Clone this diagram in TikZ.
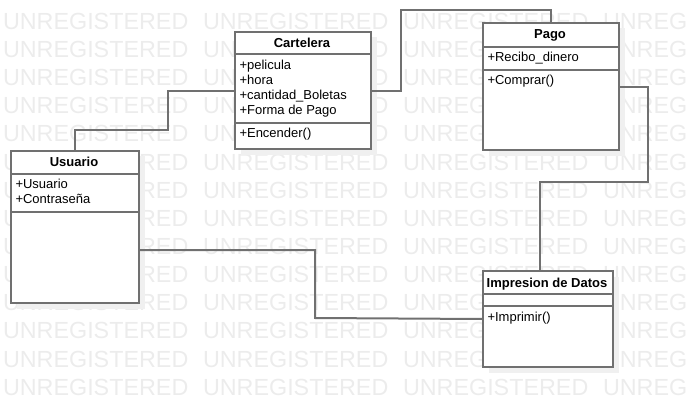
\documentclass[tikz,border=0pt]{standalone}
\usepackage{fontspec}
\setmainfont{Liberation Sans}

\definecolor{umlline}{RGB}{112,112,112}
\definecolor{umlshadow}{RGB}{240,240,240}
\definecolor{watermark}{RGB}{236,236,236}

\tikzset{every picture/.style={line width=1.5pt}}
\tikzset{
  classbox/.style={draw=umlline, fill=white, inner sep=0pt, anchor=north west},
  classshadow/.style={fill=umlshadow},
  classline/.style={draw=umlline},
  conn/.style={draw=umlline},
  classtitle/.style={font=\fontsize{9.75}{11}\selectfont\bfseries, inner sep=0pt, anchor=base},
  member/.style={font=\fontsize{9.75}{11}\selectfont, inner sep=0pt, anchor=base west},
  wmark/.style={font=\fontsize{17.5}{20}\selectfont, text=watermark, inner sep=0pt, anchor=base west}
}

\begin{document}
\begin{tikzpicture}[x=0.75pt,y=0.75pt,yscale=-1,xscale=1]
\useasboundingbox (0,0) rectangle (689,406);

%Watermark
\begin{scope}
\clip (0,0) rectangle (689,406);
\foreach \r in {0,...,13}{
  \foreach \c in {0,...,3}{
    \node[wmark] (wm-\r-\c) at (2+200*\c, 29.3+28.15*\r) {UNREGISTERED};
  }
}
\end{scope}

%Shape: Shadows
\fill[classshadow] (240.5,37.5) rectangle (376.5,155);
\fill[classshadow] (488.5,28.5) rectangle (624.5,156);
\fill[classshadow] (16.5,156.5) rectangle (144.5,308.5);
\fill[classshadow] (488.5,276.5) rectangle (618.5,372.5);

%Shape: Rectangle
\node[classbox, minimum width=102pt, minimum height=88.1pt] (cartelera) at (234,31) {};
\draw[classline] (cartelera.west |- 0,54.3) -- (cartelera.east |- 0,54.3);
\draw[classline] (cartelera.west |- 0,123.3) -- (cartelera.east |- 0,123.3);
%Shape: Rectangle
\node[classbox, minimum width=102pt, minimum height=95.6pt] (pago) at (482,22) {};
\draw[classline] (pago.west |- 0,47) -- (pago.east |- 0,47);
\draw[classline] (pago.west |- 0,70) -- (pago.east |- 0,70);
%Shape: Rectangle
\node[classbox, minimum width=96pt, minimum height=114pt] (usuario) at (10,150) {};
\draw[classline] (usuario.west |- 0,174.3) -- (usuario.east |- 0,174.3);
\draw[classline] (usuario.west |- 0,212) -- (usuario.east |- 0,212);
%Shape: Rectangle
\node[classbox, minimum width=97.5pt, minimum height=72pt] (impresion) at (482,270) {};
\draw[classline] (impresion.west |- 0,294.3) -- (impresion.east |- 0,294.3);
\draw[classline] (impresion.west |- 0,306) -- (impresion.east |- 0,306);

%Straight Lines
\draw[conn] (usuario.north) |- (168,130) |- (cartelera.west);
\draw[conn] (cartelera.east) -| (401,10) -| (pago.north);
\draw[conn] (pago.east) -| (648,182) -| (impresion.north -| 540,0);
\draw[conn] (usuario.east |- 0,250) -| (315,318) -- (impresion.west);

% Text Node
\node[classtitle] (cartelera-name) at (302,47.3) {Cartelera};
\node[member] (cartelera-a1) at (238.5,70) {+pelicula};
\node[member] (cartelera-a2) at (238.5,84.8) {+hora};
\node[member] (cartelera-a3) at (238.5,99.6) {+cantidad\_Boletas};
\node[member] (cartelera-a4) at (238.5,114.4) {+Forma de Pago};
\node[member] (cartelera-m1) at (238.5,138) {+Encender()};
% Text Node
\node[classtitle] (pago-name) at (550,39) {Pago};
\node[member] (pago-a1) at (486.5,62) {+Recibo\_dinero};
\node[member] (pago-m1) at (486.5,84.5) {+Comprar()};
% Text Node
\node[classtitle] (usuario-name) at (74,167) {Usuario};
\node[member] (usuario-a1) at (14.5,188.5) {+Usuario};
\node[member] (usuario-a2) at (14.5,204) {+Contraseña};
% Text Node
\node[classtitle] (impresion-name) at (547,287) {Impresion de Datos};
\node[member] (impresion-m1) at (486.5,321.5) {+Imprimir()};

\end{tikzpicture}
\end{document}
